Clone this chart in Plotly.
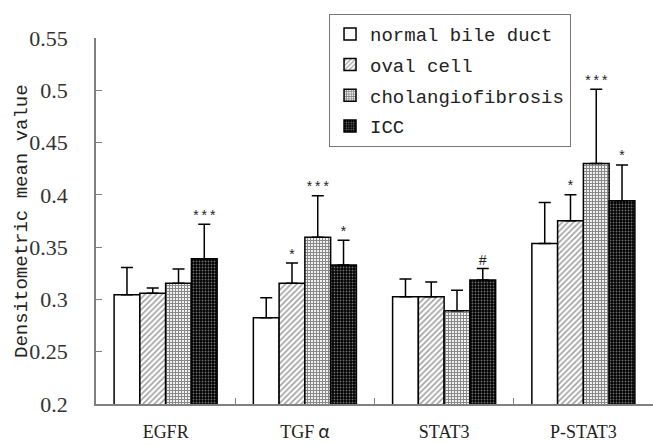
import plotly.graph_objects as go

categories = ["EGFR", "TGF<span style='font-family:Noto Sans CJK SC'> α</span>", "STAT3", "P-STAT3"]
series_names = ["normal bile duct", "oval cell", "cholangiofibrosis", "ICC"]

normal_vals = [0.3045, 0.2825, 0.3026, 0.3536]
normal_err = [0.026, 0.019, 0.017, 0.039]
oval_vals = [0.306, 0.3154, 0.3026, 0.3753]
oval_err = [0.005, 0.0194, 0.0141, 0.0247]
chol_vals = [0.3155, 0.3594, 0.2892, 0.430]
chol_err = [0.0137, 0.0398, 0.0195, 0.071]
icc_vals = [0.339, 0.333, 0.3186, 0.3944]
icc_err = [0.0328, 0.0235, 0.011, 0.0342]

normal_sig = ["", "", "", ""]
oval_sig = ["", "*", "", "*"]
chol_sig = ["", "***", "", "***"]
icc_sig = ["***", "*", "#", "*"]

ytick_vals = [0.2, 0.25, 0.3, 0.35, 0.4, 0.45, 0.5, 0.55]
ytick_text = ["0.2", "0.25", "0.3", "0.35", "0.4", "0.45", "0.5", "0.55"]
y_title = "Densitometric mean value"

MONO = "Liberation Mono"
SERIF = "Liberation Serif"

styles = [
    dict(color="white", pattern=dict(shape="")),
    dict(color="white", pattern=dict(shape="/", fgcolor="#444444", bgcolor="white", size=4, solidity=0.4)),
    dict(color="white", pattern=dict(shape="+", fgcolor="#111111", bgcolor="white", size=3, solidity=0.65)),
    dict(color="black", pattern=dict(shape=".", fgcolor="#dddddd", bgcolor="black", size=3, solidity=0.3)),
]

vals = [normal_vals, oval_vals, chol_vals, icc_vals]
errs = [normal_err, oval_err, chol_err, icc_err]
sigs = [normal_sig, oval_sig, chol_sig, icc_sig]

fig = go.Figure()
for i in range(4):
    st = styles[i]
    fig.add_trace(go.Bar(
        name=series_names[i], x=categories, y=vals[i], offsetgroup=str(i),
        legendgroup="g" + str(i),
        marker=dict(color=st["color"], pattern=st["pattern"], line=dict(color="black", width=1.5)),
        error_y=dict(type="data", array=errs[i], arrayminus=[0] * 4, symmetric=False,
                     color="black", thickness=1.5, width=6),
    ))
for i in range(4):
    tops = [v + e for v, e in zip(vals[i], errs[i])]
    fig.add_trace(go.Scatter(
        x=categories, y=tops, mode="text", text=sigs[i], offsetgroup=str(i),
        textposition="top center", textfont=dict(family=MONO, size=14, color="#222222"),
        showlegend=False, hoverinfo="skip",
    ))

fig.update_layout(
    width=653, height=445,
    margin=dict(l=96, r=0, t=38, b=41, autoexpand=False),
    paper_bgcolor="white", plot_bgcolor="white",
    barmode="group", bargap=0.26, bargroupgap=0,
    scattermode="group",
    font=dict(family=MONO, size=19, color="#222222"),
    legend=dict(x=0.418, y=1.066, xanchor="left", yanchor="top",
                bordercolor="#777777", borderwidth=1.2, bgcolor="white",
                font=dict(family=MONO, size=19), itemwidth=30,
                tracegroupgap=3, traceorder="grouped"),
    showlegend=True,
)
fig.add_annotation(
    text=y_title, xref="paper", yref="paper", x=-0.1329, y=0.5,
    xanchor="center", yanchor="middle", textangle=-90, showarrow=False,
    font=dict(family=MONO, size=19, color="#222222"),
)
fig.update_xaxes(
    showline=True, linecolor="#808080", linewidth=1.5,
    ticks="inside", tickson="boundaries", ticklen=6, tickcolor="#808080",
    ticklabelstandoff=11, tickfont=dict(family=SERIF, size=18, color="#222222"),
    showgrid=False, range=[-0.5, 3.5],
)
fig.update_yaxes(
    range=[0.2, 0.55], tickvals=ytick_vals, ticktext=ytick_text,
    showline=True, linecolor="#808080", linewidth=1.5,
    ticks="inside", ticklen=6, tickcolor="#808080",
    ticklabelstandoff=22, tickfont=dict(family=SERIF, size=22, color="#333333"),
    showgrid=False, zeroline=False,
)
fig.write_html(
    "out.html",
    config={"displayModeBar": False},
    post_script="document.body.style.margin='0';document.body.style.overflow='hidden';",
)
